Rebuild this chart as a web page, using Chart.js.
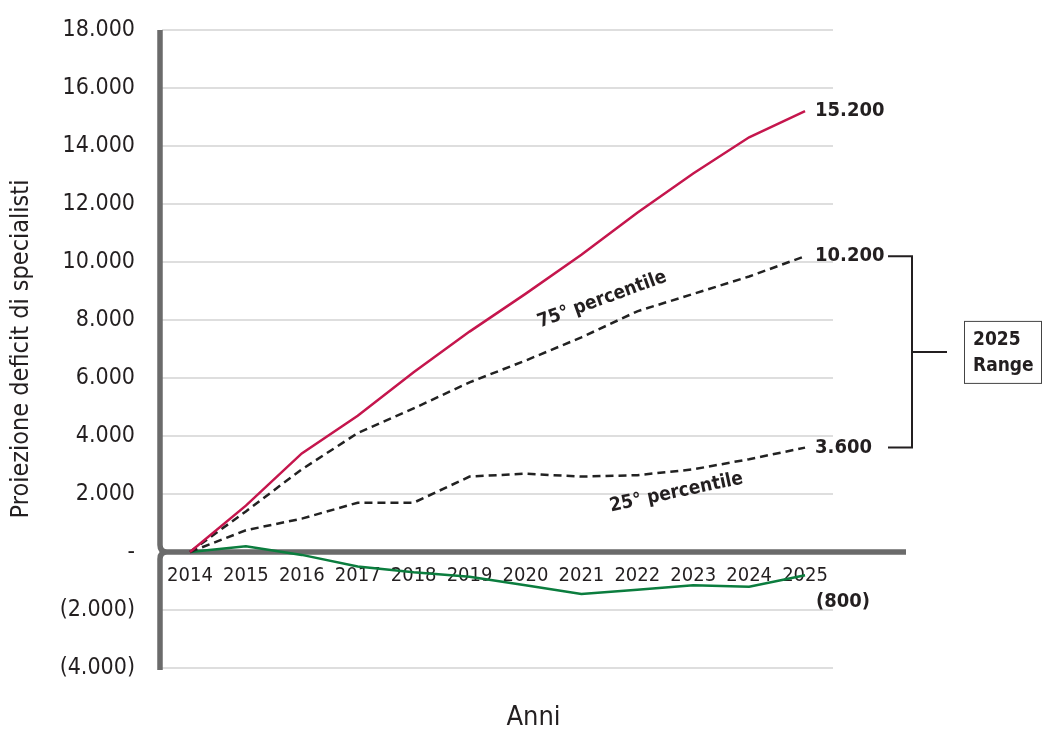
<!DOCTYPE html>
<html>
<head>
<meta charset="utf-8">
<title>Proiezione deficit di specialisti</title>
<script src="https://cdn.jsdelivr.net/npm/chart.js"></script>
<style>
  html, body { margin: 0; padding: 0; background: #fff; }
  #wrap { width: 1043px; height: 731px; }
</style>
</head>
<body>
<div id="wrap"><canvas id="deficitChart" width="1043" height="731"></canvas></div>
<script>
// dati
const anni = ['2014', '2015', '2016', '2017', '2018', '2019', '2020', '2021', '2022', '2023', '2024', '2025'];
const scenarioAlto = [0, 1600, 3400, 4700, 6200, 7600, 8900, 10250, 11700, 13050, 14300, 15200];
const percentile75 = [0, 1400, 2850, 4100, 4950, 5850, 6600, 7400, 8300, 8900, 9500, 10200];
const percentile25 = [0, 750, 1150, 1700, 1700, 2600, 2700, 2600, 2650, 2850, 3200, 3600];
const scenarioBasso = [0, 200, -100, -500, -700, -850, -1150, -1450, -1300, -1150, -1200, -800];
const yTicks = [-4000, -2000, 0, 2000, 4000, 6000, 8000, 10000, 12000, 14000, 16000, 18000];

const fontNarrow = "'Liberation Sans Narrow', 'Arial Narrow', 'DejaVu Sans Condensed', sans-serif";
const testo = '#231f20';

function formatNum(v) {
  if (v === 0) return '-';
  const s = String(Math.abs(v)).replace(/\B(?=(\d{3})+(?!\d))/g, '.');
  return v < 0 ? '(' + s + ')' : s;
}

// assi grigi spessi con l'angolo arrotondato sullo zero
const assiPlugin = {
  id: 'assi',
  beforeDatasetsDraw(chart) {
    const { ctx, chartArea, scales: { y } } = chart;
    const x0 = chartArea.left - 2;
    const y0 = y.getPixelForValue(0);
    const r = 7;
    ctx.save();
    ctx.strokeStyle = '#6b6b6b';
    ctx.lineWidth = 5.5;
    ctx.beginPath();
    ctx.moveTo(x0, chartArea.top);
    ctx.lineTo(x0, y0 - r);
    ctx.quadraticCurveTo(x0, y0, x0 + r, y0);
    ctx.lineTo(chartArea.right + 73, y0);
    ctx.moveTo(x0 + r, y0);
    ctx.quadraticCurveTo(x0, y0, x0, y0 + r);
    ctx.lineTo(x0, chartArea.bottom + 2);
    ctx.stroke();
    ctx.restore();
  }
};

// etichette finali, percentili, parentesi e riquadro "2025 Range"
const etichettePlugin = {
  id: 'etichette',
  afterDatasetsDraw(chart) {
    const { ctx, chartArea, scales: { x, y } } = chart;
    ctx.save();
    ctx.fillStyle = testo;
    ctx.font = 'bold 20px ' + fontNarrow;
    ctx.textAlign = 'left';
    ctx.textBaseline = 'middle';
    const ultimo = anni.length - 1;
    [scenarioAlto, percentile75, percentile25].forEach((serie, i) => {
      const pt = chart.getDatasetMeta(i).data[ultimo];
      ctx.fillText(formatNum(serie[ultimo]), pt.x + 10, pt.y);
    });
    const ptB = chart.getDatasetMeta(3).data[ultimo];
    ctx.fillText(formatNum(scenarioBasso[ultimo]), ptB.x + 11, ptB.y + 27);

    // scritte inclinate
    ctx.font = 'bold 19px ' + fontNarrow;
    ctx.textAlign = 'center';
    ctx.save();
    ctx.translate(x.getPixelForValue(7.37), y.getPixelForValue(8700));
    ctx.rotate(-20 * Math.PI / 180);
    ctx.fillText('75° percentile', 0, 0);
    ctx.restore();
    ctx.save();
    ctx.translate(x.getPixelForValue(8.7), y.getPixelForValue(2050));
    ctx.rotate(-12 * Math.PI / 180);
    ctx.fillText('25° percentile', 0, 0);
    ctx.restore();

    // parentesi del range 2025
    const yAlto = y.getPixelForValue(percentile75[ultimo]);
    const yBasso = y.getPixelForValue(percentile25[ultimo]);
    const yMed = (yAlto + yBasso) / 2;
    const bx1 = chartArea.right + 55, bx2 = chartArea.right + 79;
    ctx.strokeStyle = testo;
    ctx.lineWidth = 2;
    ctx.beginPath();
    ctx.moveTo(bx1, yAlto);
    ctx.lineTo(bx2, yAlto);
    ctx.lineTo(bx2, yBasso);
    ctx.lineTo(bx1, yBasso);
    ctx.moveTo(bx2, yMed);
    ctx.lineTo(chartArea.right + 114, yMed);
    ctx.stroke();

    ctx.lineWidth = 1;
    ctx.strokeStyle = '#444';
    ctx.strokeRect(chartArea.right + 131.5, yMed - 30.5, 77, 62);
    ctx.textAlign = 'left';
    ctx.fillText('2025', chartArea.right + 140, yMed - 12);
    ctx.fillText('Range', chartArea.right + 140, yMed + 14);

    // titolo asse x
    ctx.font = '27px ' + fontNarrow;
    ctx.textAlign = 'center';
    ctx.fillText('Anni', chart.width / 2 + 12, chartArea.bottom + 50);
    ctx.restore();
  }
};

const ctx = document.getElementById('deficitChart').getContext('2d');
const lineaBase = { pointRadius: 0, tension: 0, fill: false };

const deficitChart = new Chart(ctx, {
  type: 'line',
  data: {
    labels: anni,
    datasets: [
      { ...lineaBase, label: 'Scenario alto', data: scenarioAlto, borderColor: '#c5164d', borderWidth: 2.5 },
      { ...lineaBase, label: '75° percentile', data: percentile75, borderColor: '#222', borderWidth: 2.5, borderDash: [8, 5] },
      { ...lineaBase, label: '25° percentile', data: percentile25, borderColor: '#222', borderWidth: 2.5, borderDash: [8, 5] },
      { ...lineaBase, label: 'Scenario basso', data: scenarioBasso, borderColor: '#0b7d3e', borderWidth: 2.5 }
    ]
  },
  options: {
    responsive: false,
    animation: false,
    devicePixelRatio: 1,
    layout: { padding: { top: 30, right: 210, left: 0, bottom: 63 } },
    plugins: {
      legend: { display: false },
      tooltip: { enabled: false }
    },
    scales: {
      x: {
        position: { y: 0 },
        offset: true,
        grid: { display: false, drawTicks: false },
        border: { display: false },
        ticks: {
          color: testo,
          font: { family: fontNarrow, size: 20 },
          padding: 12,
          autoSkip: false,
          maxRotation: 0
        }
      },
      y: {
        min: -4000,
        max: 18000,
        afterBuildTicks: scale => { scale.ticks = yTicks.map(v => ({ value: v })); },
        afterFit: scale => {
          scale.width = 162;
          scale.paddingTop = 0;
          scale.paddingBottom = 0;
        },
        grid: { color: '#dedede', lineWidth: 2, drawTicks: false },
        border: { display: false },
        ticks: {
          color: testo,
          font: { family: fontNarrow, size: 23 },
          padding: 27,
          callback: v => formatNum(v)
        },
        title: {
          display: true,
          text: 'Proiezione deficit di specialisti',
          color: testo,
          font: { family: fontNarrow, size: 25 },
          padding: { top: 6, bottom: 0 }
        }
      }
    }
  },
  plugins: [assiPlugin, etichettePlugin]
});
</script>
</body>
</html>
